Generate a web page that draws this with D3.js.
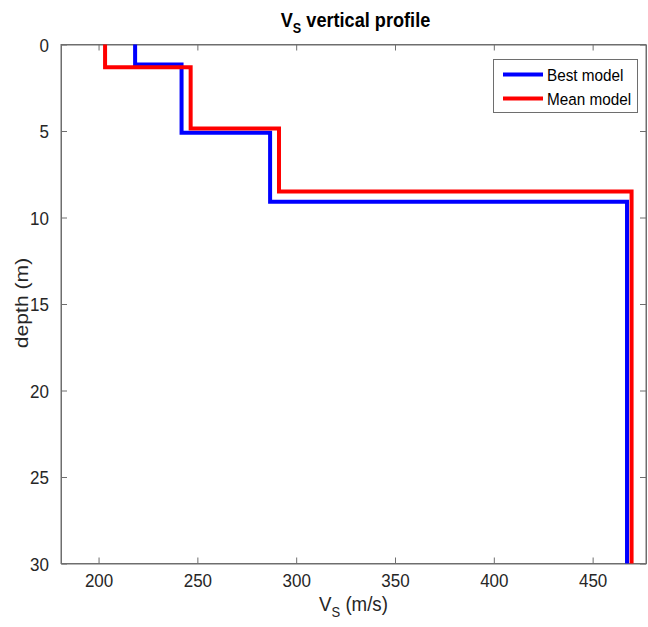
<!DOCTYPE html>
<html><head><meta charset="utf-8">
<script src="https://cdn.jsdelivr.net/npm/d3@7"></script>
<style>
html,body{margin:0;padding:0;background:#fff;}
text{font-family:"Liberation Sans",Arial,Helvetica,sans-serif;}
</style></head>
<body><svg id="c" width="648" height="627"></svg>
<script>
// Data
const bestVs = [218.5, 242.0, 286.8, 467.4];
const bestDepth = [0, 1.16, 5.1, 9.09, 30];
const meanVs = [203.3, 246.6, 291.3, 469.7];
const meanDepth = [0, 1.31, 4.85, 8.5, 30];
const xTicks = [200, 250, 300, 350, 400, 450];
const yTicks = [0, 5, 10, 15, 20, 25, 30];
const seriesNames = ["Best model", "Mean model"];
const seriesColors = ["#0000ff", "#ff0000"];

const svg = d3.select("#c");
const L = 61, R = 646, T = 44.5, B = 563.5;
const SY = 1.13; // vertical text stretch seen in the reference
const x = d3.scaleLinear().domain([181, 477]).range([L, R]);
const y = d3.scaleLinear().domain([0, 30]).range([T, B]);

function profile(vs, depth) {
  const pts = [];
  vs.forEach((v, i) => { pts.push([v, depth[i]]); pts.push([v, depth[i + 1]]); });
  return pts;
}
const series = [profile(bestVs, bestDepth), profile(meanVs, meanDepth)];

const axisColor = "#6e6e6e", textColor = "#262626";
const g = svg.append("g");

g.append("rect").attr("x", L).attr("y", T).attr("width", R - L).attr("height", B - T)
  .attr("fill", "none").attr("stroke", axisColor).attr("stroke-width", 1);

const xb = g.append("g").attr("transform", `translate(0,${B})`)
  .call(d3.axisBottom(x).tickValues(xTicks).tickSizeInner(-6).tickSizeOuter(0).tickPadding(10));
const xt = g.append("g").attr("transform", `translate(0,${T})`)
  .call(d3.axisTop(x).tickValues(xTicks).tickSizeInner(-6).tickSizeOuter(0).tickFormat(""));
const yl = g.append("g").attr("transform", `translate(${L},0)`)
  .call(d3.axisLeft(y).tickValues(yTicks).tickSizeInner(-6).tickSizeOuter(0).tickPadding(12));
const yr = g.append("g").attr("transform", `translate(${R},0)`)
  .call(d3.axisRight(y).tickValues(yTicks).tickSizeInner(-6).tickSizeOuter(0).tickFormat(""));
[xb, xt, yl, yr].forEach(a => {
  a.select(".domain").attr("stroke", axisColor);
  a.selectAll(".tick line").attr("stroke", axisColor);
  a.selectAll(".tick text").attr("fill", textColor).style("font-size", "17px")
   .style("font-family", '"Liberation Sans",Arial,sans-serif');
});
// stretch tick labels vertically
xb.selectAll(".tick text").each(function () {
  const t = d3.select(this); const ty = +t.attr("y");
  t.attr("y", 0).attr("dy", "0.72em").attr("transform", `translate(0,${ty}) scale(1,${SY})`);
});
yl.selectAll(".tick text").each(function () {
  const t = d3.select(this); const tx = +t.attr("x");
  t.attr("x", 0).attr("dy", "0.36em").attr("transform", `translate(${tx},0) scale(1,${SY})`);
});

const line = d3.line().x(d => x(d[0])).y(d => y(d[1]));
series.forEach((s, i) => {
  g.append("path").datum(s).attr("d", line).attr("fill", "none")
    .attr("stroke", seriesColors[i]).attr("stroke-width", 4).attr("stroke-linejoin", "miter");
});

// title
const title = svg.append("text").attr("transform", `translate(${(L + R) / 2 + 2},27) scale(0.97,${SY})`)
  .attr("text-anchor", "middle").attr("fill", "#000").style("font-size", "18.7px").style("font-weight", "bold");
title.append("tspan").text("V");
title.append("tspan").attr("dy", 5).style("font-size", "13px").text("S");
title.append("tspan").attr("dy", -5).text(" vertical profile");

// x label
const xlab = svg.append("text").attr("transform", `translate(${(L + R) / 2},611) scale(1,${SY})`)
  .attr("text-anchor", "middle").attr("fill", textColor).style("font-size", "18.7px");
xlab.append("tspan").text("V");
xlab.append("tspan").attr("dy", 5).style("font-size", "13px").text("S");
xlab.append("tspan").attr("dy", -5).text(" (m/s)");

// y label
svg.append("text").attr("transform", `translate(28,${(T + B) / 2 - 1}) rotate(-90) scale(${SY},1)`)
  .attr("text-anchor", "middle").attr("fill", textColor).style("font-size", "18.7px").text("depth (m)");

// legend
const lg = svg.append("g");
lg.append("rect").attr("x", 493.5).attr("y", 59.5).attr("width", 144).attr("height", 53)
  .attr("fill", "#fff").attr("stroke", axisColor).attr("stroke-width", 1);
seriesNames.forEach((n, i) => {
  const yy = 74.5 + i * 24;
  lg.append("line").attr("x1", 503).attr("x2", 543).attr("y1", yy).attr("y2", yy)
    .attr("stroke", seriesColors[i]).attr("stroke-width", 4);
  lg.append("text").attr("transform", `translate(547,${yy}) scale(1,${SY})`).attr("dy", "0.36em")
    .attr("fill", "#000").style("font-size", "15.3px").text(n);
});
</script></body></html>
